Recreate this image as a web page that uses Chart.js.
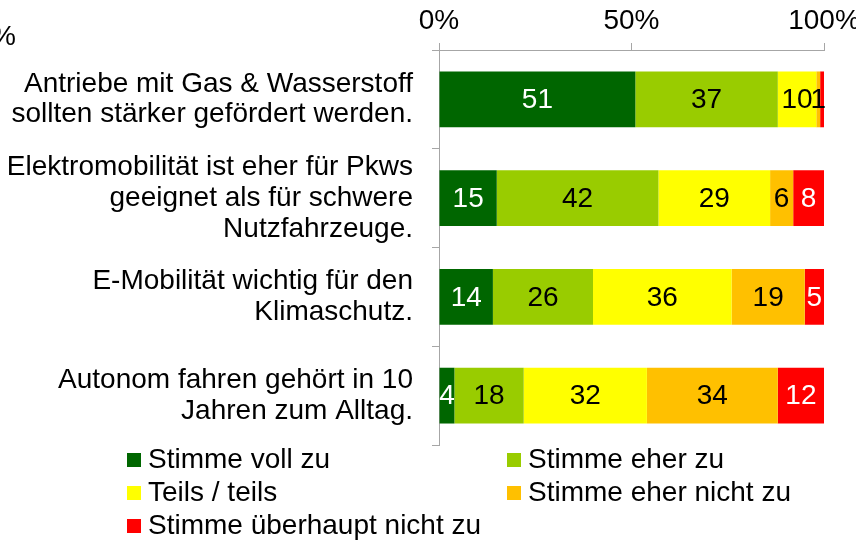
<!DOCTYPE html>
<html>
<head>
<meta charset="utf-8">
<script src="https://cdn.jsdelivr.net/npm/chart.js@4/dist/chart.umd.min.js"></script>
<style>
  html, body { margin: 0; padding: 0; background: #fff; }
  #wrap { position: relative; width: 856px; height: 542px; overflow: hidden; font-family: "Liberation Sans", Arial, sans-serif; }
  #unit { position: absolute; left: -9px; top: 20px; font-size: 28px; line-height: 32px; color: #000; }
  .leg { position: absolute; font-size: 28px; line-height: 32px; color: #000; white-space: nowrap; }
  .leg i { position: absolute; left: -21px; top: 10px; width: 14px; height: 14px; }
</style>
</head>
<body>
<div id="wrap">
  <canvas id="chart" width="856" height="542"></canvas>
  <span id="unit">%</span>
  <div id="legend"></div>
</div>
<script>
const categories = [
  ['Antriebe mit Gas & Wasserstoff', 'sollten stärker gefördert werden.'],
  ['Elektromobilität ist eher für Pkws', 'geeignet als für schwere', 'Nutzfahrzeuge.'],
  ['E-Mobilität wichtig für den', 'Klimaschutz.'],
  ['Autonom fahren gehört in 10', 'Jahren zum Alltag.']
];
const seriesNames = ['Stimme voll zu', 'Stimme eher zu', 'Teils / teils', 'Stimme eher nicht zu', 'Stimme überhaupt nicht zu'];
const vollZu = [51, 15, 14, 4];
const eherZu = [37, 42, 26, 18];
const teilsTeils = [10, 29, 36, 32];
const eherNicht = [1, 6, 19, 34];
const garNicht = [1, 8, 5, 12];
const xTicks = [0, 50, 100];

const colors = ['#006600', '#99cc00', '#ffff00', '#ffc000', '#ff0000'];
const labelColors = ['#ffffff', '#000000', '#000000', '#000000', '#ffffff'];
// label of the tiny red segment in the first row is not shown in the original
const hiddenLabels = [[4, 0]];

const FONT = '"Liberation Sans", Arial, sans-serif';
const AXIS = '#a6a6a6';

const valueLabels = {
  id: 'valueLabels',
  afterDatasetsDraw(chart) {
    const ctx = chart.ctx;
    ctx.save();
    ctx.font = '28px ' + FONT;
    ctx.textAlign = 'center';
    ctx.textBaseline = 'middle';
    chart.data.datasets.forEach((ds, i) => {
      chart.getDatasetMeta(i).data.forEach((bar, j) => {
        if (hiddenLabels.some(h => h[0] === i && h[1] === j)) return;
        ctx.fillStyle = labelColors[i];
        ctx.fillText(String(ds.data[j]), (bar.x + bar.base) / 2, bar.y + 1);
      });
    });
    ctx.restore();
  }
};

const allSeries = [vollZu, eherZu, teilsTeils, eherNicht, garNicht];

new Chart(document.getElementById('chart'), {
  type: 'bar',
  data: {
    labels: categories,
    datasets: allSeries.map((data, i) => ({
      label: seriesNames[i],
      data: data,
      backgroundColor: colors[i],
      borderWidth: 0,
      barPercentage: 0.565,
      categoryPercentage: 1
    }))
  },
  options: {
    indexAxis: 'y',
    responsive: false,
    animation: false,
    layout: { padding: { left: 0, right: 32, top: 0, bottom: 97 } },
    plugins: {
      legend: { display: false },
      tooltip: { enabled: false }
    },
    scales: {
      x: {
        position: 'top',
        stacked: true,
        min: 0,
        max: 100,
        afterBuildTicks: scale => { scale.ticks = xTicks.map(v => ({ value: v })); },
        afterFit: scale => { scale.height = 50; scale.paddingLeft = 0; scale.paddingRight = 0; },
        ticks: {
          callback: v => v + '%',
          color: '#000',
          font: { family: FONT, size: 28 },
          padding: 5,
          maxRotation: 0
        },
        grid: { drawOnChartArea: false, tickLength: 7, color: AXIS, lineWidth: 1 },
        border: { color: AXIS, width: 1 }
      },
      y: {
        stacked: true,
        afterFit: scale => { scale.width = 439; scale.paddingTop = 0; scale.paddingBottom = 0; },
        ticks: {
          autoSkip: false,
          color: '#000',
          font: { family: FONT, size: 28, lineHeight: 1.1 },
          padding: 19
        },
        grid: { drawOnChartArea: false, tickLength: 7, color: AXIS, lineWidth: 1, offset: true },
        border: { color: AXIS, width: 1 }
      }
    }
  },
  plugins: [valueLabels]
});

// legend in two columns, built from the series names and colours
const legendPos = [[148, 443], [528, 443], [148, 476], [528, 476], [148, 509]];
const legend = document.getElementById('legend');
seriesNames.forEach((name, i) => {
  const d = document.createElement('div');
  d.className = 'leg';
  d.style.left = legendPos[i][0] + 'px';
  d.style.top = legendPos[i][1] + 'px';
  const sw = document.createElement('i');
  sw.style.background = colors[i];
  d.appendChild(sw);
  d.appendChild(document.createTextNode(name));
  legend.appendChild(d);
});
</script>
</body>
</html>
